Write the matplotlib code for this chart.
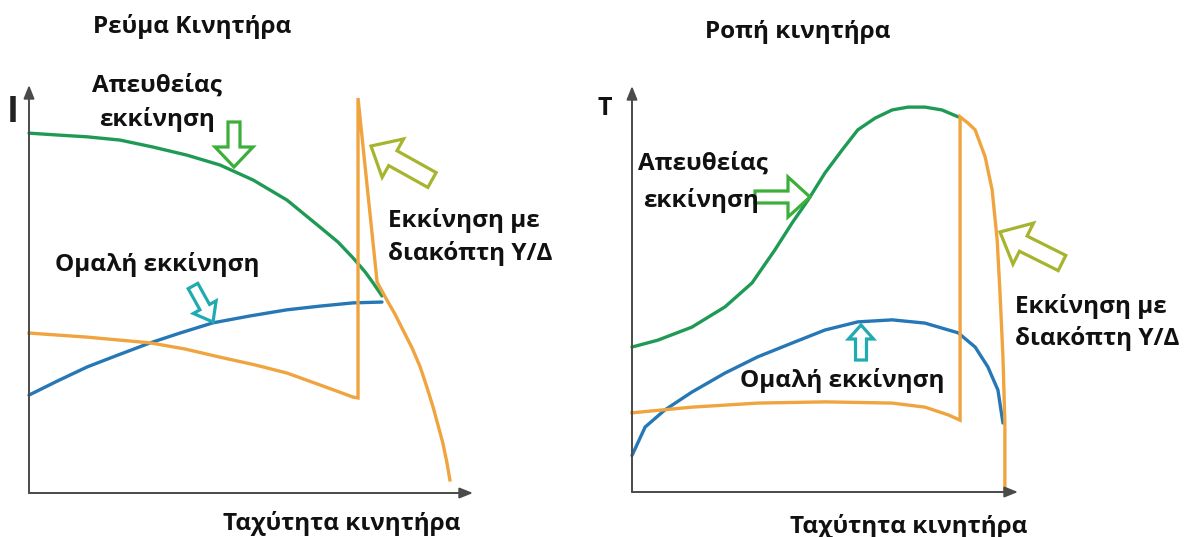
import numpy as np
import matplotlib.pyplot as plt
from matplotlib.patches import FancyArrow

plt.rcParams['font.family'] = ['Open Sans', 'DejaVu Sans']

# ---- motor current vs speed (speed in % of axis, current in relative units)
i_dol_x = [0, 7.0, 13.1, 20.5, 27.9, 35.6, 43.0, 50.5, 58.1, 65.5, 69.6, 73.0,
           75.7, 77.5, 79.5]
i_dol_y = [88.2, 87.7, 87.3, 86.5, 84.8, 82.8, 80.4, 76.7, 71.8, 65.2, 61.5, 57.6,
           54.2, 51.5, 48.3]

i_soft_x = [0, 6.5, 13.1, 20.0, 27.3, 34.0, 41.4, 49.8, 58.1, 65.5, 73.0, 79.5]
i_soft_y = [24.0, 27.5, 30.9, 33.8, 36.8, 39.2, 41.7, 43.4, 44.9, 45.8, 46.6, 46.8]

i_yd_x = [0, 13.1, 27.3, 35.1, 43.0, 50.9, 58.1, 65.5, 73.0, 74.1, 74.1, 78.4,
          80.6, 82.4, 84.2, 86.3, 88.1, 89.6, 91.0, 92.1, 93.2, 94.1, 94.8]
i_yd_y = [39.2, 38.2, 36.8, 35.3, 33.3, 31.4, 29.4, 26.5, 23.5, 23.3, 96.8, 51.7,
          47.3, 43.9, 40.0, 35.5, 30.9, 26.0, 21.1, 16.7, 12.3, 7.6, 3.2]

# ---- motor torque vs speed
t_dol_x = [0, 6.7, 15.5, 24.1, 31.1, 37.0, 41.5, 45.6, 50.0, 54.4, 58.5, 63.0,
           67.4, 71.5, 75.9, 80.3, 84.5]
t_dol_y = [35.7, 37.4, 40.6, 45.6, 51.5, 59.6, 66.3, 71.9, 78.6, 84.2, 89.2, 92.1,
           94.1, 94.8, 94.8, 94.1, 92.4]

t_soft_x = [0, 3.4, 8.5, 15.5, 24.1, 32.6, 41.5, 50.0, 58.5, 67.4, 75.9, 84.5,
            88.9, 92.2, 94.8, 96.1]
t_soft_y = [9.0, 16.0, 20.2, 24.6, 29.3, 33.3, 36.7, 39.9, 41.9, 42.4, 41.6, 39.2,
            35.7, 30.8, 25.1, 17.0]

t_yd_x = [0, 15.5, 32.6, 50.0, 67.4, 75.9, 81.9, 85.0, 85.0, 87.0, 88.9, 91.5,
          93.3, 94.6, 95.3, 96.1, 96.6, 96.6]
t_yd_y = [19.5, 20.9, 21.9, 22.2, 21.9, 20.9, 19.0, 17.7, 92.4, 90.9, 89.2, 82.5,
          74.4, 62.1, 49.8, 33.3, 17.0, 0.5]

GREEN = '#1e9a55'
BLUE = '#2677b5'
ORANGE = '#f0a43f'
AXIS = '#4a4a4a'

W, H = 1199, 537
fig = plt.figure(figsize=(W / 100, H / 100), dpi=100)
fig.patch.set_facecolor('white')


def px_axes(x0, y0, x1, y1):
    # axes box given by pixel corners (origin at top-left of the image)
    return fig.add_axes([x0 / W, 1 - y0 / H, (x1 - x0) / W, (y0 - y1) / H])


def draw_frame(ax):
    ax.set_xlim(0, 100)
    ax.set_ylim(0, 100)
    ax.axis('off')
    ap = dict(arrowstyle='-|>,head_length=0.8,head_width=0.32', color=AXIS,
              lw=1.4, shrinkA=0, shrinkB=0)
    ax.annotate('', xy=(1, 0), xytext=(0, 0), xycoords='axes fraction', arrowprops=ap)
    ax.annotate('', xy=(0, 1), xytext=(0, 0), xycoords='axes fraction', arrowprops=ap)


lw = 2.4
ax1 = px_axes(29, 493, 473, 85)
draw_frame(ax1)
ax1.plot(i_dol_x, i_dol_y, color=GREEN, lw=lw, clip_on=False, solid_capstyle='round')
ax1.plot(i_soft_x, i_soft_y, color=BLUE, lw=lw, clip_on=False, solid_capstyle='round')
ax1.plot(i_yd_x, i_yd_y, color=ORANGE, lw=lw, clip_on=False, solid_joinstyle='miter')

ax2 = px_axes(632, 492, 1018, 86)
draw_frame(ax2)
ax2.plot(t_dol_x, t_dol_y, color=GREEN, lw=lw, clip_on=False, solid_capstyle='round')
ax2.plot(t_soft_x, t_soft_y, color=BLUE, lw=lw, clip_on=False, solid_capstyle='round')
ax2.plot(t_yd_x, t_yd_y, color=ORANGE, lw=lw, clip_on=False, solid_joinstyle='miter')

# overlay in pixel units for labels and hollow pointer arrows
ov = fig.add_axes([0, 0, 1, 1], zorder=5)
ov.set_xlim(0, W)
ov.set_ylim(H, 0)
ov.axis('off')
ov.patch.set_alpha(0)

fs = 17.5
txt = dict(fontsize=fs, fontweight='bold', color='#111111', va='baseline')

ov.text(192, 33, 'Ρεύμα Κινητήρα', ha='center', **txt)
ov.text(798, 38, 'Ροπή κινητήρα', ha='center', **txt)

ov.text(157, 92, 'Απευθείας', ha='center', **txt)
ov.text(157, 126, 'εκκίνηση', ha='center', **txt)
ov.text(388, 227, 'Εκκίνηση με', ha='left', **txt)
ov.text(388, 260, 'διακόπτη Υ/Δ', ha='left', **txt)
ov.text(55, 271, 'Ομαλή εκκίνηση', ha='left', **txt)
ov.text(223, 530, 'Ταχύτητα κινητήρα', ha='left', **txt)
ov.text(13, 122, 'I', ha='center', fontsize=26, fontweight='bold', color='#222222',
        va='baseline')

ov.text(638, 170, 'Απευθείας', ha='left', **txt)
ov.text(643, 207, 'εκκίνηση', ha='left', **txt)
ov.text(1015, 313, 'Εκκίνηση με', ha='left', **txt)
ov.text(1015, 345, 'διακόπτη Υ/Δ', ha='left', **txt)
ov.text(740, 387, 'Ομαλή εκκίνηση', ha='left', **txt)
ov.text(790, 533, 'Ταχύτητα κινητήρα', ha='left', **txt)
ov.text(605, 115, 'T', ha='center', fontsize=18, fontweight='bold', color='#111111',
        va='baseline')


def pointer(x, y, dx, dy, width, head_w, head_l, color):
    ov.add_patch(FancyArrow(x, y, dx, dy, width=width, head_width=head_w,
                            head_length=head_l, length_includes_head=True,
                            fc='white', ec=color, lw=2.3, joinstyle='miter'))


LGREEN = '#3cae3a'
OLIVE = '#a6b42e'
TEAL = '#1fabb0'

pointer(234, 122, 0, 45, 12, 38, 20, LGREEN)
pointer(432, 180, -61, -34, 17, 44, 25, OLIVE)
pointer(193, 286, 20, 36, 11, 26, 17, TEAL)

pointer(755, 197, 55, 0, 12, 40, 22, LGREEN)
pointer(1062, 263, -62, -31, 17, 46, 26, OLIVE)
pointer(861, 360, 0, -35, 11, 25, 14, TEAL)

fig.savefig('out.png', dpi=100, facecolor='white')
